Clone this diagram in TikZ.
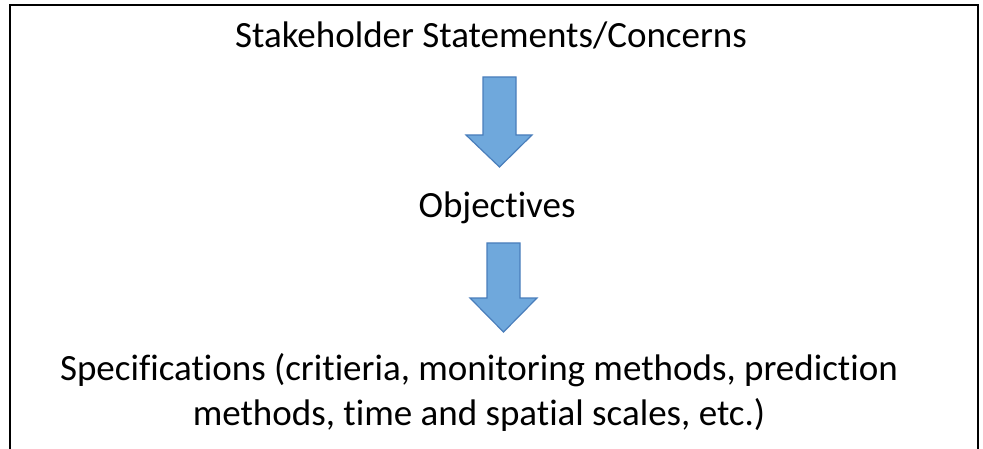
\documentclass[tikz,border=0pt]{standalone}
\usepackage{fontspec}
\setmainfont[Ligatures={NoCommon,NoContextual}]{Carlito}
\definecolor{arrowfill}{HTML}{6FA8DC}
\definecolor{arrowedge}{HTML}{4A7EBB}
\begin{document}
\begin{tikzpicture}[x=1pt,y=-1pt,
  label/.style={anchor=base,inner sep=0pt,font=\fontsize{37}{45}\selectfont},
  blockarrow/.style={fill=arrowfill,draw=arrowedge,line width=1.2pt,line join=miter}]
\useasboundingbox (0,0) rectangle (983,449);
% open frame: top edge and both sides, no bottom edge
\draw[line width=2pt,line cap=rect] (10,449) -- (10,5) coordinate (tl) -- (978,5) coordinate (tr) -- (978,449);
% texts
\node[label] (stake) at (491,48) {Stakeholder Statements/Concerns};
\node[label] (obj) at (497,218) {Objectives};
\node[label] (spec1) at (479,380) {Specifications (critieria, monitoring methods, prediction};
\node[label] (spec2) at (479,425) {methods, time and spatial scales, etc.)};
% block arrows
\draw[blockarrow] (483,77) -- (516,77) -- (516,135) -- (532,135) -- (499.5,167) -- (466,135) -- (483,135) -- cycle;
\draw[blockarrow] (487,243) -- (520,243) -- (520,298) -- (537,298) -- (503.5,332) -- (470,298) -- (487,298) -- cycle;
\end{tikzpicture}
\end{document}
